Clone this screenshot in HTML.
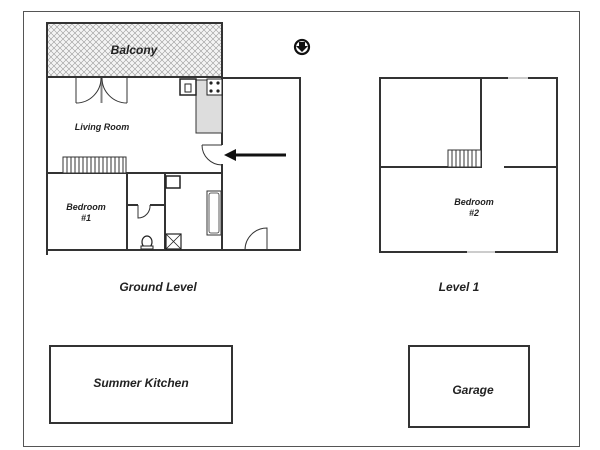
<!DOCTYPE html>
<html><head><meta charset="utf-8"><style>
html,body{margin:0;padding:0;background:#fff;width:600px;height:450px;overflow:hidden}
text{font-family:"Liberation Sans",Arial,sans-serif;font-style:italic;font-weight:bold;fill:#222}
</style></head><body>
<svg width="600" height="450" viewBox="0 0 600 450" xmlns="http://www.w3.org/2000/svg">
<defs>
<pattern id="hx" width="6" height="6" patternUnits="userSpaceOnUse">
<rect width="6" height="6" fill="#f4f4f4"/>
<path d="M0 0L6 6M6 0L0 6" stroke="#999" stroke-width="0.6"/>
</pattern>
</defs>
<!-- outer border -->
<rect x="23.5" y="11.5" width="556" height="435" fill="none" stroke="#555" stroke-width="1"/>

<!-- Balcony -->
<rect x="47" y="23" width="175" height="54" fill="url(#hx)" stroke="#333" stroke-width="2"/>
<text x="134" y="54" font-size="12" text-anchor="middle">Balcony</text>

<!-- compass -->
<circle cx="302" cy="47" r="7" fill="#fff" stroke="#111" stroke-width="2.2"/>
<path d="M299 42h6v4h3l-6 6l-6-6h3z" fill="#111"/>

<g fill="none" stroke="#333" stroke-width="2">
<!-- ground main -->
<path d="M47 77V255"/>
<path d="M47 250H300V78H222"/>
<path d="M222 77V145M222 164V250"/>
<path d="M47 173H222"/>
<path d="M127 173V250"/>
<path d="M165 173V250"/>
<path d="M127 205H138M150 205H165"/>
</g>
<!-- doors to balcony -->
<g fill="none" stroke="#333" stroke-width="1">
<path d="M76 78V103M127 78V103"/>
<path d="M76 103A25 25 0 0 0 101 78M127 103A25 25 0 0 1 102 78"/>
<path d="M101 78V103M102 78V103" stroke-width="0.6"/>
<!-- entry door -->
<path d="M202 145H222M202 145A20 20 0 0 0 222 165"/>
<!-- closet door -->
<path d="M138 205V218A12 12 0 0 0 150 205"/>
<!-- right area door -->
<path d="M267 250V228A22 22 0 0 0 245 250"/>
</g>
<!-- kitchen -->
<rect x="196" y="80" width="26" height="53" fill="#ddd" stroke="#333" stroke-width="1"/>
<rect x="180" y="79" width="16" height="16" fill="#fff" stroke="#222" stroke-width="1.5"/>
<path d="M185 84h6v8h-6z" fill="none" stroke="#222"/>
<rect x="207" y="79" width="15" height="16" fill="#fff" stroke="#222" stroke-width="1"/>
<circle cx="211" cy="83" r="1.6" fill="#222"/><circle cx="218" cy="83" r="1.6" fill="#222"/>
<circle cx="211" cy="91" r="1.6" fill="#222"/><circle cx="218" cy="91" r="1.6" fill="#222"/>
<!-- stairs ground -->
<rect x="63" y="157" width="63" height="16" fill="#fff" stroke="#333" stroke-width="1"/>
<g stroke="#333" stroke-width="1">
<path d="M67 157v16M71 157v16M75 157v16M79 157v16M83 157v16M87 157v16M91 157v16M95 157v16M99 157v16M103 157v16M107 157v16M111 157v16M115 157v16M119 157v16M123 157v16"/>
</g>
<!-- arrow -->
<path d="M286 155H234" stroke="#111" stroke-width="3"/>
<path d="M224 155L236 149V161Z" fill="#111"/>
<!-- bathroom -->
<rect x="166" y="176" width="14" height="12" fill="#fff" stroke="#222" stroke-width="1.5"/>
<rect x="207" y="191" width="14" height="44" fill="#fff" stroke="#333" stroke-width="1"/>
<rect x="209" y="193" width="10" height="40" rx="2" fill="none" stroke="#333" stroke-width="0.8"/>
<rect x="166" y="234" width="15" height="15" fill="#fff" stroke="#222" stroke-width="1.2"/>
<path d="M166 234L181 249M181 234L166 249" stroke="#222" stroke-width="0.8"/>
<ellipse cx="147" cy="242" rx="5" ry="6" fill="#fff" stroke="#222" stroke-width="1.2"/>
<rect x="141" y="246" width="12" height="3" fill="#fff" stroke="#222"/>

<text x="102" y="130" font-size="9" text-anchor="middle" font-weight="normal">Living Room</text>
<text x="86" y="210" font-size="9" text-anchor="middle" font-weight="normal">Bedroom</text>
<text x="86" y="221" font-size="9" text-anchor="middle" font-weight="normal">#1</text>

<!-- Level 1 -->
<g fill="none" stroke="#333" stroke-width="2">
<path d="M508 78H380V252H467M495 252H557V78H528"/>
<path d="M481 78V167H380"/>
<path d="M504 167H557"/>
</g>
<path d="M508 78H528M467 252H495" stroke="#bbb" stroke-width="1.5"/>
<rect x="448" y="150" width="33" height="17" fill="#fff" stroke="#333" stroke-width="1"/>
<path d="M452 150v17M456 150v17M460 150v17M464 150v17M468 150v17M472 150v17M476 150v17" stroke="#333" stroke-width="1"/>
<text x="474" y="205" font-size="9" text-anchor="middle" font-weight="normal">Bedroom</text>
<text x="474" y="216" font-size="9" text-anchor="middle" font-weight="normal">#2</text>

<text x="158" y="291" font-size="12" text-anchor="middle">Ground Level</text>
<text x="459" y="291" font-size="12" text-anchor="middle">Level 1</text>

<rect x="50" y="346" width="182" height="77" fill="none" stroke="#333" stroke-width="2"/>
<text x="141" y="387" font-size="12" text-anchor="middle">Summer Kitchen</text>
<rect x="409" y="346" width="120" height="81" fill="none" stroke="#333" stroke-width="2"/>
<text x="473" y="394" font-size="12" text-anchor="middle">Garage</text>
</svg>
</body></html>
